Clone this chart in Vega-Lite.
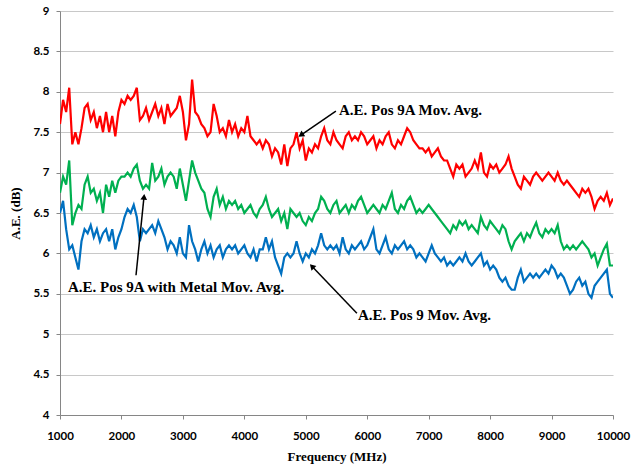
{
"$schema":"https://vega.github.io/schema/vega-lite/v6.json",
"width":553,"height":404,
"autosize":"none",
"padding":{"left":60,"top":11,"right":28,"bottom":51},
"background":"white",
"config":{"view":{"stroke":null},
 "scale":{"continuousPadding":0},
 "axis":{"labelFlush":false,"labelOverlap":false,"labelFont":"Lato","labelFontWeight":"bold","labelFontSize":11.5,"labelColor":"#000000","titleFont":"Liberation Serif","titleFontWeight":"bold","titleFontSize":13,"titleColor":"#000000","domainColor":"#868686","tickColor":"#868686","gridColor":"#c8c8c8","tickSize":4}},
"datasets":{
"lines":[
{"f":1000,"r":7.6,"g":6.75,"b":6.5},{"f":1050,"r":7.9,"g":6.95,"b":6.65},{"f":1100,"r":7.75,"g":6.85,"b":6.3},{"f":1150,"r":8.05,"g":7.15,"b":6.05},{"f":1200,"r":7.35,"g":6.35,"b":6.1},{"f":1250,"r":7.5,"g":6.5,"b":5.95},{"f":1300,"r":7.35,"g":6.6,"b":5.8},{"f":1350,"r":7.55,"g":6.55,"b":6.15},{"f":1400,"r":7.8,"g":6.85,"b":6.3},{"f":1450,"r":7.85,"g":6.95,"b":6.25},
{"f":1500,"r":7.65,"g":6.75,"b":6.35},{"f":1550,"r":7.75,"g":6.8,"b":6.2},{"f":1600,"r":7.55,"g":6.65,"b":6.3},{"f":1650,"r":7.7,"g":6.75,"b":6.15},{"f":1700,"r":7.5,"g":6.5,"b":6.25},{"f":1750,"r":7.75,"g":6.85,"b":6.3},{"f":1800,"r":7.5,"g":6.7,"b":6.15},{"f":1850,"r":7.7,"g":6.9,"b":6.3},{"f":1900,"r":7.45,"g":6.75,"b":6.05},{"f":1950,"r":7.75,"g":6.9,"b":6.2},
{"f":2000,"r":7.9,"g":6.95,"b":6.3},{"f":2050,"r":7.85,"g":6.95,"b":6.45},{"f":2100,"r":7.95,"g":7.0,"b":6.55},{"f":2150,"r":7.9,"g":6.95,"b":6.5},{"f":2200,"r":7.95,"g":7.05,"b":6.6},{"f":2250,"r":8.05,"g":7.1,"b":6.45},{"f":2300,"r":7.65,"g":6.9,"b":6.15},{"f":2350,"r":7.7,"g":6.8,"b":6.3},{"f":2400,"r":7.8,"g":6.85,"b":6.25},{"f":2450,"r":7.65,"g":6.8,"b":6.3},
{"f":2500,"r":7.75,"g":7.12,"b":6.35},{"f":2550,"r":7.85,"g":6.9,"b":6.25},{"f":2600,"r":7.7,"g":6.95,"b":6.4},{"f":2650,"r":7.8,"g":7.05,"b":6.3},{"f":2700,"r":7.6,"g":6.85,"b":6.2},{"f":2750,"r":7.85,"g":6.95,"b":6.05},{"f":2800,"r":7.7,"g":7.0,"b":6.15},{"f":2850,"r":7.75,"g":6.95,"b":6.1},{"f":2900,"r":7.8,"g":6.8,"b":6.0},{"f":2950,"r":7.95,"g":7.05,"b":6.2},
{"f":3000,"r":7.75,"g":6.85,"b":6.0},{"f":3050,"r":7.4,"g":6.65,"b":5.95},{"f":3100,"r":7.6,"g":6.9,"b":6.35},{"f":3150,"r":8.15,"g":7.15,"b":6.15},{"f":3200,"r":7.75,"g":7.0,"b":6.05},{"f":3250,"r":7.7,"g":6.9,"b":5.9},{"f":3300,"r":7.6,"g":6.8,"b":6.05},{"f":3350,"r":7.55,"g":6.75,"b":6.15},{"f":3400,"r":7.45,"g":6.55,"b":6.0},{"f":3450,"r":7.5,"g":6.45,"b":6.1},
{"f":3500,"r":7.85,"g":6.7,"b":5.95},{"f":3550,"r":7.7,"g":6.8,"b":6.05},{"f":3600,"r":7.5,"g":6.6,"b":6.1},{"f":3650,"r":7.55,"g":6.7,"b":5.95},{"f":3700,"r":7.45,"g":6.55,"b":6.05},{"f":3750,"r":7.65,"g":6.65,"b":6.1},{"f":3800,"r":7.5,"g":6.6,"b":6.05},{"f":3850,"r":7.6,"g":6.65,"b":6.1},{"f":3900,"r":7.45,"g":6.55,"b":6.0},{"f":3950,"r":7.55,"g":6.6,"b":6.05},
{"f":4000,"r":7.5,"g":6.5,"b":6.1},{"f":4050,"r":7.7,"g":6.55,"b":6.0},{"f":4100,"r":7.45,"g":6.6,"b":5.95},{"f":4150,"r":7.4,"g":6.5,"b":6.05},{"f":4200,"r":7.35,"g":6.45,"b":5.9},{"f":4250,"r":7.4,"g":6.55,"b":6.05},{"f":4300,"r":7.3,"g":6.6,"b":6.05},{"f":4350,"r":7.4,"g":6.7,"b":6.2},{"f":4400,"r":7.35,"g":6.55,"b":6.05},{"f":4450,"r":7.2,"g":6.45,"b":6.15},
{"f":4500,"r":7.3,"g":6.5,"b":5.95},{"f":4550,"r":7.25,"g":6.55,"b":5.85},{"f":4600,"r":7.1,"g":6.4,"b":5.75},{"f":4650,"r":7.35,"g":6.5,"b":5.95},{"f":4700,"r":7.08,"g":6.3,"b":6.0},{"f":4750,"r":7.3,"g":6.55,"b":5.95},{"f":4800,"r":7.35,"g":6.5,"b":6.0},{"f":4850,"r":7.5,"g":6.45,"b":6.15},{"f":4900,"r":7.3,"g":6.5,"b":6.0},{"f":4950,"r":7.4,"g":6.4,"b":5.9},
{"f":5000,"r":7.15,"g":6.35,"b":6.0},{"f":5050,"r":7.3,"g":6.45,"b":5.95},{"f":5100,"r":7.25,"g":6.4,"b":6.05},{"f":5150,"r":7.35,"g":6.5,"b":6.0},{"f":5200,"r":7.3,"g":6.55,"b":6.1},{"f":5250,"r":7.45,"g":6.7,"b":6.25},{"f":5300,"r":7.55,"g":6.65,"b":6.1},{"f":5350,"r":7.4,"g":6.55,"b":6.05},{"f":5400,"r":7.35,"g":6.5,"b":6.1},{"f":5450,"r":7.5,"g":6.6,"b":6.05},
{"f":5500,"r":7.4,"g":6.65,"b":6.1},{"f":5550,"r":7.35,"g":6.5,"b":6.0},{"f":5600,"r":7.3,"g":6.55,"b":6.2},{"f":5650,"r":7.45,"g":6.6,"b":6.05},{"f":5700,"r":7.5,"g":6.5,"b":6.0},{"f":5750,"r":7.4,"g":6.6,"b":6.1},{"f":5800,"r":7.45,"g":6.55,"b":6.05},{"f":5850,"r":7.4,"g":6.65,"b":6.1},{"f":5900,"r":7.5,"g":6.7,"b":6.15},{"f":5950,"r":7.45,"g":6.6,"b":6.05},
{"f":6000,"r":7.35,"g":6.5,"b":6.1},{"f":6050,"r":7.4,"g":6.55,"b":6.2},{"f":6100,"r":7.45,"g":6.6,"b":6.3},{"f":6150,"r":7.3,"g":6.55,"b":6.05},{"f":6200,"r":7.4,"g":6.5,"b":6.0},{"f":6250,"r":7.35,"g":6.6,"b":6.1},{"f":6300,"r":7.45,"g":6.55,"b":6.2},{"f":6350,"r":7.5,"g":6.65,"b":6.05},{"f":6400,"r":7.35,"g":6.75,"b":6.0},{"f":6450,"r":7.3,"g":6.55,"b":6.1},
{"f":6500,"r":7.4,"g":6.5,"b":6.05},{"f":6550,"r":7.35,"g":6.6,"b":6.1},{"f":6600,"r":7.45,"g":6.55,"b":6.15},{"f":6650,"r":7.55,"g":6.65,"b":6.05},{"f":6700,"r":7.5,"g":6.7,"b":6.1},{"f":6750,"r":7.4,"g":6.6,"b":6.05},{"f":6800,"r":7.35,"g":6.5,"b":5.95},{"f":6850,"r":7.3,"g":6.55,"b":6.0},{"f":6900,"r":7.3,"g":6.5,"b":5.95},{"f":6950,"r":7.25,"g":6.55,"b":5.9},
{"f":7000,"r":7.3,"g":6.6,"b":6.0},{"f":7050,"r":7.2,"g":6.55,"b":6.1},{"f":7100,"r":7.25,"g":6.5,"b":6.0},{"f":7150,"r":7.3,"g":6.45,"b":5.95},{"f":7200,"r":7.2,"g":6.4,"b":5.9},{"f":7250,"r":7.15,"g":6.35,"b":5.95},{"f":7300,"r":7.15,"g":6.3,"b":5.85},{"f":7350,"r":7.05,"g":6.25,"b":5.9},{"f":7400,"r":6.95,"g":6.35,"b":5.85},{"f":7450,"r":7.1,"g":6.3,"b":5.9},
{"f":7500,"r":7.05,"g":6.4,"b":5.95},{"f":7550,"r":7.1,"g":6.35,"b":5.9},{"f":7600,"r":6.95,"g":6.4,"b":6.0},{"f":7650,"r":7.0,"g":6.3,"b":5.9},{"f":7700,"r":7.05,"g":6.35,"b":5.85},{"f":7750,"r":7.15,"g":6.3,"b":5.9},{"f":7800,"r":7.05,"g":6.25,"b":5.95},{"f":7850,"r":7.25,"g":6.45,"b":6.0},{"f":7900,"r":7.0,"g":6.35,"b":5.85},{"f":7950,"r":6.95,"g":6.3,"b":5.9},
{"f":8000,"r":7.1,"g":6.4,"b":5.8},{"f":8050,"r":7.05,"g":6.35,"b":5.85},{"f":8100,"r":7.1,"g":6.3,"b":5.8},{"f":8150,"r":7.0,"g":6.25,"b":5.7},{"f":8200,"r":7.05,"g":6.35,"b":5.65},{"f":8250,"r":7.1,"g":6.3,"b":5.7},{"f":8300,"r":7.2,"g":6.15,"b":5.6},{"f":8350,"r":7.05,"g":6.05,"b":5.55},{"f":8400,"r":6.95,"g":6.15,"b":5.55},{"f":8450,"r":6.85,"g":6.2,"b":5.7},
{"f":8500,"r":6.8,"g":6.25,"b":5.8},{"f":8550,"r":6.95,"g":6.15,"b":5.65},{"f":8600,"r":6.9,"g":6.25,"b":5.7},{"f":8650,"r":6.85,"g":6.2,"b":5.75},{"f":8700,"r":6.95,"g":6.3,"b":5.7},{"f":8750,"r":7.0,"g":6.38,"b":5.75},{"f":8800,"r":6.95,"g":6.25,"b":5.7},{"f":8850,"r":6.9,"g":6.2,"b":5.75},{"f":8900,"r":6.95,"g":6.3,"b":5.8},{"f":8950,"r":7.0,"g":6.25,"b":5.75},
{"f":9000,"r":6.95,"g":6.3,"b":5.85},{"f":9050,"r":6.9,"g":6.25,"b":5.8},{"f":9100,"r":7.0,"g":6.35,"b":5.7},{"f":9150,"r":6.9,"g":6.15,"b":5.75},{"f":9200,"r":6.85,"g":6.05,"b":5.7},{"f":9250,"r":6.9,"g":6.1,"b":5.6},{"f":9300,"r":6.85,"g":6.05,"b":5.5},{"f":9350,"r":6.8,"g":6.1,"b":5.55},{"f":9400,"r":6.75,"g":6.05,"b":5.65},{"f":9450,"r":6.7,"g":6.1,"b":5.7},
{"f":9500,"r":6.8,"g":6.15,"b":5.6},{"f":9550,"r":6.75,"g":6.1,"b":5.65},{"f":9600,"r":6.8,"g":6.05,"b":5.5},{"f":9650,"r":6.7,"g":5.95,"b":5.45},{"f":9700,"r":6.55,"g":6.0,"b":5.6},{"f":9750,"r":6.65,"g":5.85,"b":5.65},{"f":9800,"r":6.7,"g":5.95,"b":5.7},{"f":9850,"r":6.65,"g":6.05,"b":5.75},{"f":9900,"r":6.75,"g":6.12,"b":5.8},{"f":9950,"r":6.6,"g":5.85,"b":5.5},
{"f":10000,"r":6.68,"g":5.85,"b":5.45}
],
"notes":[
{"id":1,"x":5540,"y":7.78,"t":"A.E. Pos 9A Mov. Avg.","x0":5490,"y0":7.76,"x1":4921,"y1":7.465},
{"id":2,"x":1130,"y":5.585,"t":"A.E. Pos 9A with Metal Mov. Avg.","x0":2237,"y0":5.73,"x1":2367,"y1":6.70},
{"id":3,"x":5849,"y":5.24,"t":"A.E. Pos 9 Mov. Avg.","x0":5832,"y0":5.26,"x1":5100,"y1":5.84}
]
},
"layer":[
{"data":{"name":"lines"},
 "transform":[{"fold":["r","g","b"],"as":["s","v"]}],
 "mark":{"type":"line","strokeWidth":2.2,"clip":true},
 "encoding":{
  "x":{"field":"f","type":"quantitative","scale":{"domain":[1000,10000],"nice":false,"padding":0},
   "axis":{"title":"Frequency (MHz)","values":[1000,2000,3000,4000,5000,6000,7000,8000,9000,10000],"format":"d","grid":false,"labelPadding":11,"titlePadding":9}},
  "y":{"field":"v","type":"quantitative","scale":{"domain":[4,9],"nice":false,"zero":false,"padding":0},
   "axis":{"title":"A.E. (dB)","values":[4,4.5,5,5.5,6,6.5,7,7.5,8,8.5,9],"format":"~g","grid":true,"labelPadding":7,"titlePadding":10}},
  "color":{"field":"s","type":"nominal","scale":{"domain":["r","g","b"],"range":["#ff0000","#00b050","#0070c0"]},"legend":null},
  "detail":{"field":"s"}
 }},
{"data":{"name":"notes"},
 "mark":{"type":"rule","color":"#000000","strokeWidth":1.5},
 "encoding":{"x":{"field":"x0","type":"quantitative","scale":{"domain":[1000,10000],"nice":false,"padding":0}},"y":{"field":"y0","type":"quantitative","scale":{"domain":[4,9],"nice":false,"zero":false,"padding":0}},"x2":{"field":"x1"},"y2":{"field":"y1"}}},
{"data":{"name":"notes"},"transform":[{"filter":"datum.id==1"}],
 "mark":{"type":"point","shape":"triangle-up","filled":true,"color":"#000000","size":45,"opacity":1,"angle":235.6},
 "encoding":{"x":{"field":"x1","type":"quantitative","scale":{"domain":[1000,10000],"nice":false,"padding":0}},"y":{"field":"y1","type":"quantitative","scale":{"domain":[4,9],"nice":false,"zero":false,"padding":0}}}},
{"data":{"name":"notes"},"transform":[{"filter":"datum.id==2"}],
 "mark":{"type":"point","shape":"triangle-up","filled":true,"color":"#000000","size":45,"opacity":1,"angle":5.8},
 "encoding":{"x":{"field":"x1","type":"quantitative","scale":{"domain":[1000,10000],"nice":false,"padding":0}},"y":{"field":"y1","type":"quantitative","scale":{"domain":[4,9],"nice":false,"zero":false,"padding":0}}}},
{"data":{"name":"notes"},"transform":[{"filter":"datum.id==3"}],
 "mark":{"type":"point","shape":"triangle-up","filled":true,"color":"#000000","size":45,"opacity":1,"angle":316.2},
 "encoding":{"x":{"field":"x1","type":"quantitative","scale":{"domain":[1000,10000],"nice":false,"padding":0}},"y":{"field":"y1","type":"quantitative","scale":{"domain":[4,9],"nice":false,"zero":false,"padding":0}}}},
{"data":{"name":"notes"},
 "mark":{"type":"text","font":"Liberation Serif","fontWeight":"bold","fontSize":15,"align":"left","baseline":"middle","color":"#000000"},
 "encoding":{"x":{"field":"x","type":"quantitative","scale":{"domain":[1000,10000],"nice":false,"padding":0}},"y":{"field":"y","type":"quantitative","scale":{"domain":[4,9],"nice":false,"zero":false,"padding":0}},"text":{"field":"t"}}}
]
}
